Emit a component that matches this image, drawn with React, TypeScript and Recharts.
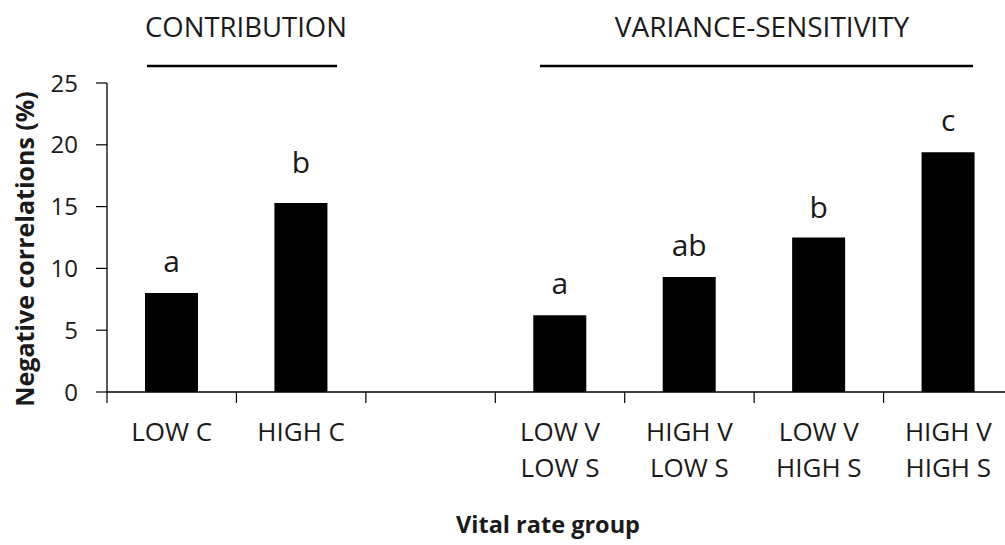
import React from 'react';
import { BarChart, Bar, XAxis, YAxis, LabelList } from 'recharts';

// vital rate groups (the third slot is an empty spacer between the two panels)
const groups = ['LOW C', 'HIGH C', '', 'LOW V/LOW S', 'HIGH V/LOW S', 'LOW V/HIGH S', 'HIGH V/HIGH S'];
const tickLine1 = ['LOW C', 'HIGH C', '', 'LOW V', 'HIGH V', 'LOW V', 'HIGH V'];
const tickLine2 = ['', '', '', 'LOW S', 'LOW S', 'HIGH S', 'HIGH S'];
const negativeCorr = [8.0, 15.3, null, 6.2, 9.3, 12.5, 19.4];
const sigLetters = ['a', 'b', '', 'a', 'ab', 'b', 'c'];
const yTicks = [0, 5, 10, 15, 20, 25];

const data = groups.map((g, i) => ({ group: g, value: negativeCorr[i], sig: sigLetters[i] }));

const FONT = '"Open Sans", "DejaVu Sans", sans-serif';
const INK = '#1a1a1a';

const W = 1013;
const H = 545;
const PLOT_LEFT = 107;
const BAND_HALF = (W - PLOT_LEFT) / groups.length / 2;
// gap between bar top and letter baseline, per bar
const letterGap = [21, 30, 21, 21, 20, 21, 27];

// category tick: separator lines at the band edges, one or two text lines centred
function GroupTick(props: any) {
  const { x, y, payload, index } = props;
  const half = payload && payload.offset ? payload.offset : BAND_HALF;
  const last = index === groups.length - 1;
  return (
    <g>
      <line x1={x - half} y1={y} x2={x - half} y2={y + 11} stroke="#000" strokeWidth={1.2} />
      {last && <line x1={x + half} y1={y} x2={x + half} y2={y + 11} stroke="#000" strokeWidth={1.2} />}
      <text x={x} y={y + 49} textAnchor="middle" fontSize={26} fontFamily={FONT} fill={INK}>
        {tickLine1[index]}
      </text>
      <text x={x} y={y + 85} textAnchor="middle" fontSize={26} fontFamily={FONT} fill={INK}>
        {tickLine2[index]}
      </text>
    </g>
  );
}

function SigLetter(props: any) {
  const { x, y, width, value, index } = props;
  if (!value) return null;
  return (
    <text x={x + width / 2} y={y - letterGap[index]} textAnchor="middle" fontSize={30} fontFamily={FONT} fill={INK}>
      {value}
    </text>
  );
}

export default function App() {
  return (
    <div style={{ position: 'fixed', left: 0, top: 0, width: 1005, height: 545, overflow: 'hidden', background: '#fff' }}>
      <BarChart width={W} height={H} data={data} margin={{ top: 83, right: 0, bottom: 0, left: 0 }}>
        <XAxis
          dataKey="group"
          height={153}
          interval={0}
          tickLine={false}
          tickSize={0}
          tickMargin={0}
          axisLine={{ stroke: '#000', strokeWidth: 1.3 }}
          tick={<GroupTick />}
        />
        <YAxis
          width={PLOT_LEFT}
          domain={[0, 25]}
          ticks={yTicks}
          interval={0}
          tickSize={11}
          tickMargin={18}
          axisLine={{ stroke: '#000', strokeWidth: 1.3 }}
          tickLine={{ stroke: '#000', strokeWidth: 1.2 }}
          tick={{ fill: INK, fontSize: 24, fontFamily: FONT }}
        />
        <Bar dataKey="value" fill="#000" barSize={53} isAnimationActive={false}>
          <LabelList dataKey="sig" content={<SigLetter />} />
        </Bar>
      </BarChart>

      {/* panel headings, axis titles */}
      <svg width={1005} height={545} style={{ position: 'absolute', left: 0, top: 0, pointerEvents: 'none' }}>
        <text x={246} y={37} textAnchor="middle" fontSize={27.5} fontFamily={FONT} fill={INK}>CONTRIBUTION</text>
        <line x1={147} y1={66} x2={337} y2={66} stroke="#000" strokeWidth={2.5} />
        <text x={762} y={37} textAnchor="middle" fontSize={28} fontFamily={FONT} fill={INK}>VARIANCE-SENSITIVITY</text>
        <line x1={540} y1={66} x2={973} y2={66} stroke="#000" strokeWidth={2.5} />
        <text
          x={24}
          y={249}
          transform="rotate(-90, 24, 249)"
          textAnchor="middle"
          dominantBaseline="central"
          fontSize={25}
          fontWeight="bold"
          fontFamily={FONT}
          fill={INK}
        >
          Negative correlations (%)
        </text>
        <text x={548} y={533} textAnchor="middle" fontSize={23.5} fontWeight="bold" fontFamily={FONT} fill={INK}>
          Vital rate group
        </text>
      </svg>
    </div>
  );
}
